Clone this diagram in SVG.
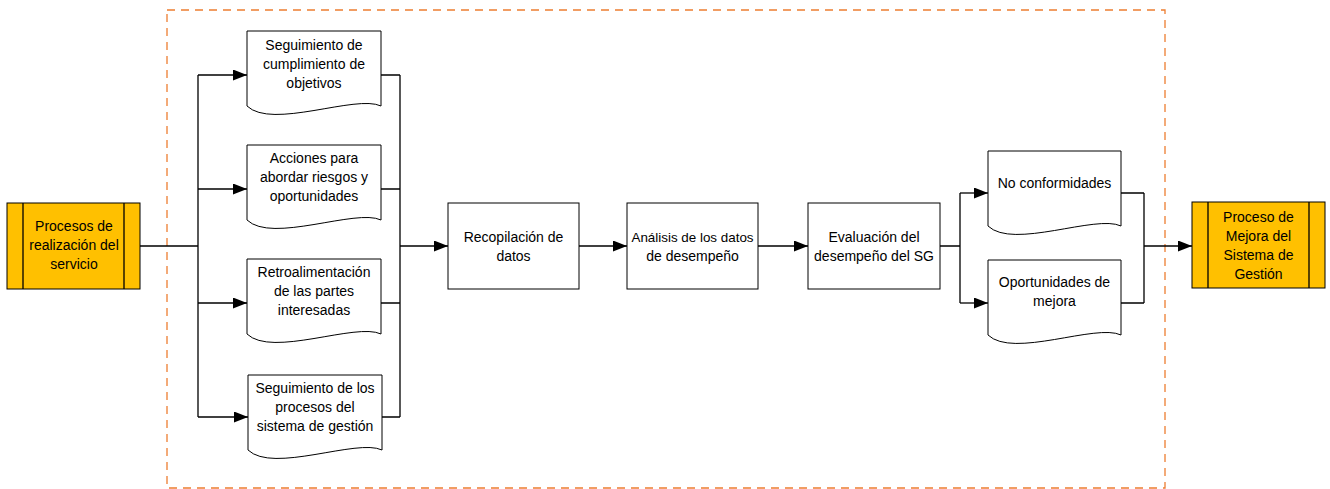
<svg xmlns="http://www.w3.org/2000/svg" width="1330" height="489" viewBox="0 0 1330 489">
<style>
.t{font-family:"Liberation Sans",Arial,sans-serif;font-size:14px;fill:#000;text-anchor:middle}
.box{fill:#fff;stroke:#000;stroke-width:1}
.proc{fill:#FFC000;stroke:#000;stroke-width:1}
.ln{fill:none;stroke:#000;stroke-width:1.3}
.arr{fill:none;stroke:#000;stroke-width:1.3;marker-end:url(#ah)}
</style>
<defs>
<marker id="ah" markerWidth="14" markerHeight="11" refX="14" refY="5.5" orient="auto" markerUnits="userSpaceOnUse">
<path d="M0,0 L14,5.5 L0,11 Z" fill="#000"/>
</marker>
</defs>
<rect x="167" y="10" width="998" height="478" fill="none" stroke="#ED7D31" stroke-width="1.3" stroke-dasharray="8,6"/>
<g id="connectors">
<path class="ln" d="M140,246 H198 M198,75 V417"/>
<path class="arr" d="M198,75 H247"/>
<path class="arr" d="M198,189 H247"/>
<path class="arr" d="M198,303 H247"/>
<path class="arr" d="M198,417 H248"/>
<path class="ln" d="M381,75 H400 M381,189 H400 M381,303 H400 M382,417 H400 M400,75 V417"/>
<path class="arr" d="M400,246 H448"/>
<path class="arr" d="M579,246 H627"/>
<path class="arr" d="M758,246 H808"/>
<path class="ln" d="M940,246 H960 M960,193 V303"/>
<path class="arr" d="M960,193 H988"/>
<path class="arr" d="M960,303 H988"/>
<path class="ln" d="M1121,193 H1144 M1121,303 H1144 M1144,193 V303"/>
<path class="arr" d="M1144,246 H1192"/>
</g>
<g id="n-procesos">
<rect class="proc" x="7" y="203" width="133" height="86"/>
<path class="ln" d="M23,203 V289 M124,203 V289" stroke-width="1"/>
<text class="t" x="74" y="231">Procesos de</text>
<text class="t" x="74" y="250">realización del</text>
<text class="t" x="74" y="269">servicio</text>
</g>
<g id="n-doc1">
<path class="box" d="M247,31 H381 V106 C356,94 272,130 247,106 Z"/>
<text class="t" x="314" y="50">Seguimiento de</text>
<text class="t" x="314" y="69">cumplimiento de</text>
<text class="t" x="314" y="88">objetivos</text>
</g>
<g id="n-doc2">
<path class="box" d="M247,145 H381 V220 C356,208 272,244 247,220 Z"/>
<text class="t" x="314" y="163">Acciones para</text>
<text class="t" x="314" y="182">abordar riesgos y</text>
<text class="t" x="314" y="201">oportunidades</text>
</g>
<g id="n-doc3">
<path class="box" d="M247,259 H381 V334 C356,322 272,358 247,334 Z"/>
<text class="t" x="314" y="277">Retroalimentación</text>
<text class="t" x="314" y="296">de las partes</text>
<text class="t" x="314" y="315">interesadas</text>
</g>
<g id="n-doc4">
<path class="box" d="M248,375 H382 V450 C357,438 273,474 248,450 Z"/>
<text class="t" x="315" y="393">Seguimiento de los</text>
<text class="t" x="315" y="412">procesos del</text>
<text class="t" x="315" y="431">sistema de gestión</text>
</g>
<g id="n-recopilacion">
<rect class="box" x="448" y="203" width="131" height="86"/>
<text class="t" x="513.5" y="241.5">Recopilación de</text>
<text class="t" x="513.5" y="260.5">datos</text>
</g>
<g id="n-analisis">
<rect class="box" x="627" y="203" width="131" height="86"/>
<text class="t" x="692.5" y="241.5" style="font-size:13.4px">Análisis de los datos</text>
<text class="t" x="692.5" y="260.5">de desempeño</text>
</g>
<g id="n-evaluacion">
<rect class="box" x="808" y="203" width="132" height="86"/>
<text class="t" x="874" y="241.5">Evaluación del</text>
<text class="t" x="874" y="260.5">desempeño del SG</text>
</g>
<g id="n-noconf">
<path class="box" d="M988,151 H1121 V226 C1096,214 1013,250 988,226 Z"/>
<text class="t" x="1054.5" y="188">No conformidades</text>
</g>
<g id="n-oport">
<path class="box" d="M988,260 H1121 V335 C1096,323 1013,359 988,335 Z"/>
<text class="t" x="1054.5" y="287">Oportunidades de</text>
<text class="t" x="1054.5" y="306">mejora</text>
</g>
<g id="n-mejora">
<rect class="proc" x="1192" y="202" width="133" height="86"/>
<path class="ln" d="M1208,202 V288 M1309,202 V288" stroke-width="1"/>
<text class="t" x="1258.5" y="221.5">Proceso de</text>
<text class="t" x="1258.5" y="240.5">Mejora del</text>
<text class="t" x="1258.5" y="259.5">Sistema de</text>
<text class="t" x="1258.5" y="278.5">Gestión</text>
</g>
</svg>
